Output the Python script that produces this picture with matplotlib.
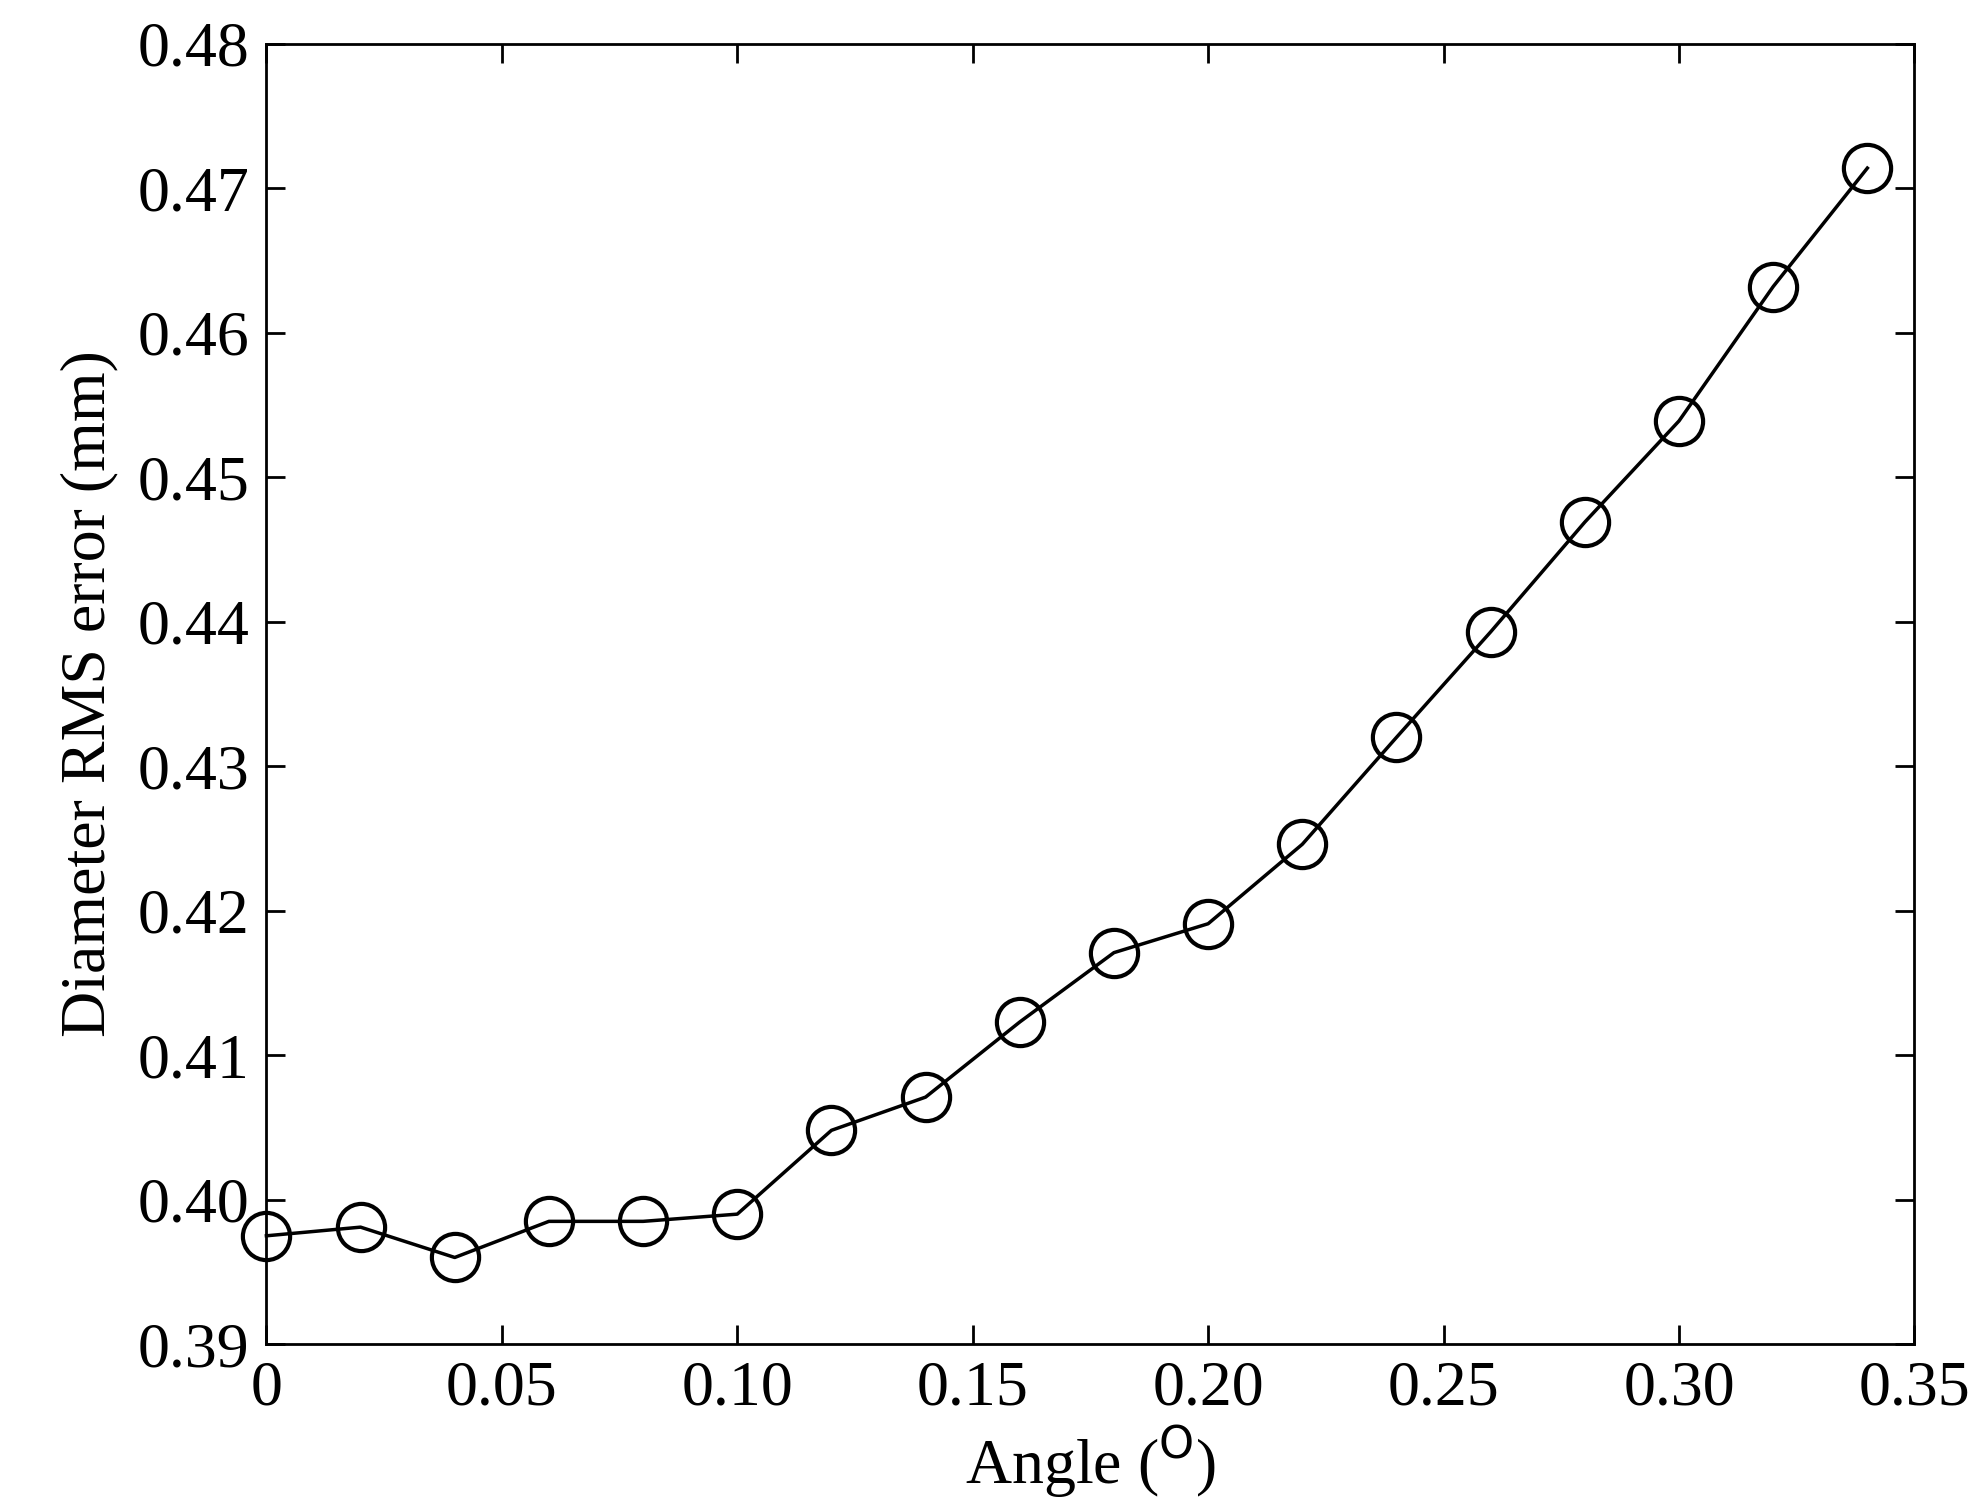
import matplotlib
matplotlib.use('Agg')
import matplotlib.pyplot as plt

angle = [0, 0.02, 0.04, 0.06, 0.08, 0.10, 0.12, 0.14, 0.16, 0.18,
         0.20, 0.22, 0.24, 0.26, 0.28, 0.30, 0.32, 0.34]
rms_error = [0.3975, 0.3981, 0.3960, 0.3985, 0.3985, 0.3990, 0.4048, 0.4071,
             0.4123, 0.4171, 0.4191, 0.4246, 0.4320, 0.4393, 0.4469, 0.4539,
             0.4632, 0.4714]
xticks = [0, 0.05, 0.10, 0.15, 0.20, 0.25, 0.30, 0.35]
xtick_labels = ['0', '0.05', '0.10', '0.15', '0.20', '0.25', '0.30', '0.35']
yticks = [0.39, 0.40, 0.41, 0.42, 0.43, 0.44, 0.45, 0.46, 0.47, 0.48]

plt.rcParams['font.family'] = ['Liberation Serif', 'DejaVu Serif']

fig = plt.figure(figsize=(19.88, 15.12), dpi=100)
ax = fig.add_axes([0.134, 0.111, 0.829, 0.860])

ax.plot(angle, rms_error, color='black', linewidth=2.5, marker='o', markersize=34,
        markerfacecolor='none', markeredgecolor='black', markeredgewidth=3, clip_on=False)

ax.set_xlim(0, 0.35)
ax.set_ylim(0.39, 0.48)
ax.set_xticks(xticks)
ax.set_xticklabels(xtick_labels)
ax.set_yticks(yticks)
ax.set_yticklabels([f'{v:.2f}' for v in yticks])
ax.tick_params(direction='in', length=14, width=2, labelsize=46, top=True, right=True, pad=12)
for s in ax.spines.values():
    s.set_linewidth(2)

ax.set_xlabel('Angle ($^{\\mathrm{O}}$)', fontsize=46, labelpad=4)
ax.set_ylabel('Diameter RMS error (mm)', fontsize=46, labelpad=14)

fig.savefig('out.png', dpi=100)
